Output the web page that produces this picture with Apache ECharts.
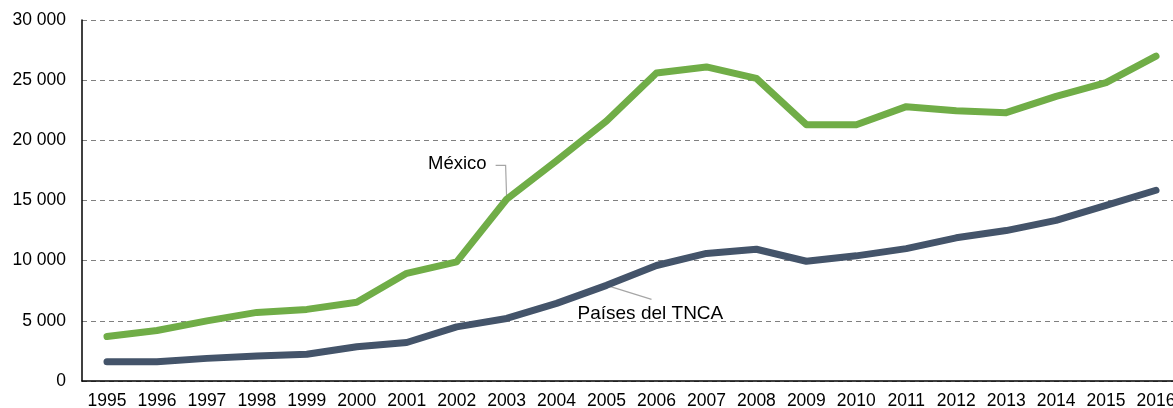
<!DOCTYPE html>
<html><head><meta charset="utf-8">
<script src="https://cdn.jsdelivr.net/npm/echarts@6/dist/echarts.min.js"></script>
<style>html,body{margin:0;padding:0;background:#fff}#c{width:1173px;height:408px}</style>
</head><body><div id="c"></div>
<script>
const years = ['1995','1996','1997','1998','1999','2000','2001','2002','2003','2004','2005','2006','2007','2008','2009','2010','2011','2012','2013','2014','2015','2016'];
const mexico = [3700,4200,5000,5700,5950,6550,8950,9900,15100,18300,21600,25600,26100,25150,21300,21300,22800,22450,22300,23650,24800,27000];
const tnca = [1600,1600,1880,2080,2220,2850,3200,4500,5200,6450,7950,9600,10600,10950,9950,10400,11000,11900,12500,13350,14600,15850];
const seriesNames = ['México','Países del TNCA'];
const yTicks = {min:0, max:30000, interval:5000};

const chart = echarts.init(document.getElementById('c'));
const font = 'Liberation Sans, Arial, sans-serif';
chart.setOption({
  animation:false,
  grid:{left:82, width:1099, top:20, height:361, containLabel:false, outerBoundsMode:'none'},
  xAxis:{type:'category', data:years, boundaryGap:true,
    axisLine:{lineStyle:{color:'#000', width:1.5}},
    axisTick:{alignWithLabel:true, length:5, lineStyle:{color:'#000'}},
    axisLabel:{color:'#000', fontFamily:font, fontSize:17.5, margin:11, interval:0},
    splitLine:{show:false}},
  yAxis:{type:'value', min:yTicks.min, max:yTicks.max, interval:yTicks.interval,
    axisLine:{show:true, lineStyle:{color:'#000', width:1.5}},
    axisTick:{show:false},
    axisLabel:{color:'#000', fontFamily:font, fontSize:17.5, margin:16,
      formatter:v=>String(v).replace(/\B(?=(\d{3})+(?!\d))/g,' ')},
    splitLine:{lineStyle:{color:'#808080', type:[5,4], width:1}}},
  series:[
    {name:seriesNames[0], type:'line', data:mexico, symbol:'none', lineStyle:{color:'#70AD47', width:7, cap:'round', join:'round'}},
    {name:seriesNames[1], type:'line', data:tnca, symbol:'none', lineStyle:{color:'#44546A', width:7, cap:'round', join:'round'}}
  ]
});

// annotations anchored to data points
const pM = chart.convertToPixel({gridIndex:0}, ['2003', mexico[8]]);
const pT = chart.convertToPixel({gridIndex:0}, ['2005', tnca[10]]);
chart.setOption({graphic:[
  {type:'polyline', shape:{points:[[pM[0]-11,pM[1]-34],[pM[0]-1,pM[1]-34],[pM[0],pM[1]-2]]}, style:{stroke:'#a6a6a6', lineWidth:1.2, fill:null}},
  {type:'text', x:pM[0]-20, y:pM[1]-35, style:{text:seriesNames[0], font:'18.5px '+font, fill:'#000', align:'right', verticalAlign:'middle'}},
  {type:'line', shape:{x1:pT[0], y1:pT[1], x2:pT[0]+45, y2:pT[1]+14}, style:{stroke:'#a6a6a6', lineWidth:1.2}},
  {type:'text', x:pT[0]-29, y:pT[1]+28, style:{text:seriesNames[1], font:'19px '+font, fill:'#000', align:'left', verticalAlign:'middle'}}
]});
</script></body></html>
